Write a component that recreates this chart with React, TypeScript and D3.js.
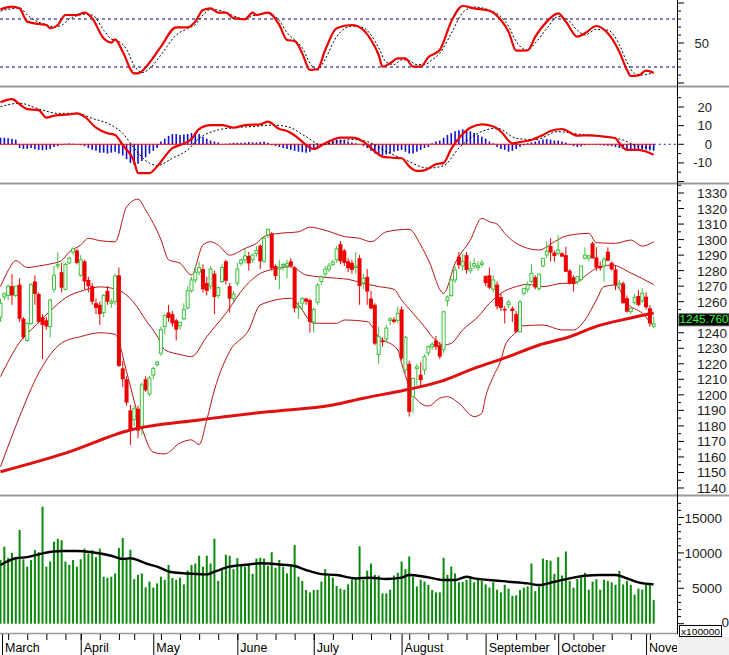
import React from 'react';
import * as d3 from 'd3';

// ---------- DATA ----------
const monthNames = ['March', 'April', 'May', 'June', 'July', 'August', 'September', 'October', 'November'];
const monthStart = [0, 21, 40, 62, 82, 105, 127, 146, 169];
const weekStart = [2, 7, 12, 17, 21, 26, 31, 35, 42, 47, 52, 57, 62, 67, 72, 77, 82, 87, 92, 97, 102, 107, 112, 117, 122, 130, 135, 140, 145, 150, 155, 160, 165, 170];

const opens = [1250,1263,1264,1270,1264,1271,1249,1235,1246,1273,1265,1250,1248,1244,1268,1283,1279,1268,1285,1292,1293,1277,1286,1274,1270,1259,1258,1253,1267,1259,1260,1277,1217,1210,1190,1184,1191,1178.5,1210,1200.6,1212.8,1219.5,1226.8,1244,1253,1252,1248,1244.5,1249,1256,1267,1274,1279,1281,1272,1270,1278,1264,1273,1286,1270,1262,1272,1284.7,1287,1289.5,1287,1291,1296,1286,1303,1304,1283,1281,1283,1283,1286,1282,1256,1259,1262,1261,1247,1259.6,1273,1278,1281,1284,1287,1297,1293,1286,1285,1282,1288,1272,1276,1262,1258,1226,1235,1236,1248,1248.5,1248,1255,1216,1220,1199,1217,1213,1216,1227,1231,1235,1232,1229,1260.7,1264,1274,1289,1283,1290,1280,1283,1282,1284,1276.5,1277,1268,1271,1263,1255.3,1258,1255.6,1252,1240.7,1265.4,1268,1273,1275.7,1268.6,1283,1290,1295.8,1291.6,1291.1,1291.1,1290,1280,1275.7,1272.9,1274.4,1288,1288,1297.6,1288.5,1283,1283,1292.2,1285,1280.8,1271,1271.8,1262.2,1253.6,1259.4,1263.7,1260.5,1263.2,1255.7,1244.2];
const highs = [1262,1266,1271,1278,1270,1275,1250,1247,1272,1277,1266,1252,1250,1262,1283,1292,1285,1285,1289,1295,1294,1290,1287,1276,1272,1262,1260,1265,1270,1262,1278,1282,1222,1212,1193.5,1193,1193,1208,1212,1212,1218,1222,1244,1252,1258,1254,1249,1247,1259,1270,1276,1283,1286,1284,1276,1283,1280,1270,1284,1287,1272,1267,1285,1288,1294,1292,1291,1296,1297,1302,1307,1305,1284,1287,1285,1287,1288,1283,1260,1263,1262.5,1262,1256,1272,1277,1283,1285,1287,1296,1299,1294,1288,1287,1292,1290,1278,1281,1267,1259,1244,1237,1245,1250,1250,1257,1257,1238,1222,1211,1220,1221,1226,1232,1234,1238,1234,1254,1264,1275,1283,1292,1291,1292,1286,1288,1286,1287,1277,1282,1277,1273,1265,1257,1261,1257,1254,1261,1268,1273,1284,1277,1278,1287,1299,1300.8,1293,1303,1292,1295.4,1281,1277,1276,1283,1295,1290,1298.6,1295,1286,1289,1295,1286,1283,1274,1273,1264,1256,1265,1267.5,1268.6,1266,1257.8,1250.4];
const lows = [1247,1261,1261,1258,1263,1247,1236,1234,1245,1258,1246,1223,1242,1237,1266,1281,1266,1267,1284,1290,1284,1276,1268,1266,1258,1252,1245,1250,1258,1256,1258,1218,1205,1193,1167.7,1180,1172,1174,1202,1199,1210,1218,1225,1239,1247,1244,1235,1242,1248,1255,1266,1272,1277,1266,1264,1268,1252,1262,1272,1271,1253,1260,1270,1283,1285,1280,1285,1289,1281,1285,1301,1280,1274,1268,1280,1275,1282,1253,1249,1254,1258,1240,1240,1258,1271,1276,1279,1283,1285,1284,1283,1279,1278,1278,1258,1268,1258,1255,1232,1220,1231,1234,1245,1246,1246,1222,1214,1186,1188,1206,1205,1213,1225,1229,1229,1223,1227,1257,1263,1272,1281,1280,1278,1278,1281,1280,1282,1270,1268,1266,1255,1254,1246,1256,1247,1240,1240,1264,1266,1272,1268,1267,1282,1288,1285.8,1285.8,1290,1289,1279,1271,1266.5,1271,1273,1287,1286,1287.9,1280,1280,1273,1286,1280,1267.5,1268,1258.9,1253,1252,1258,1257,1259,1255,1243.9,1242.8];
const closes = [1259,1265,1270,1264,1270,1249,1237,1246,1271,1265,1247,1245,1244,1261,1277,1284,1269,1284,1288,1294,1285,1287,1273,1270,1260,1256,1252,1264,1260,1260,1276.5,1218.6,1210,1195,1177.4,1191,1177,1206.4,1203,1210.8,1217,1221,1242,1251,1249.5,1246,1242,1246.7,1255,1267,1274,1279,1282,1268,1267,1281,1263,1269,1282,1273.5,1262,1265,1281,1286.8,1289.5,1284.7,1290,1293,1286,1300.8,1306.6,1281.5,1276.5,1282,1284,1284.5,1283,1255.7,1257,1262,1260,1247,1255,1270.7,1276,1281,1283,1285.5,1294,1286,1285,1281.5,1280.5,1283,1270,1275,1266.5,1255.7,1233,1237.5,1234,1243,1249,1247,1252.5,1223.5,1237,1189,1210.5,1218,1209.5,1224.6,1231,1232.5,1231,1224.6,1253.5,1263,1274,1280.4,1283.6,1286,1280.4,1281.5,1284.5,1283,1285,1272,1269,1274,1257,1256,1254.5,1259.8,1254,1240.7,1259.6,1268.6,1270.8,1278.2,1269.2,1277.8,1287.9,1292.6,1291.6,1289.4,1293.3,1289,1279.3,1271.8,1271.4,1276.1,1283,1290,1289.5,1287.9,1282,1281.5,1287.3,1286.4,1280.8,1270.7,1272,1259,1253.6,1255.8,1262.8,1257.9,1265.4,1256.4,1246,1245.76];
const volumes = [9000,10880,9300,10000,9400,13230,9100,8050,9000,10400,10100,16520,8050,8780,11580,12000,11800,8780,8300,9000,8050,9100,10600,9900,10400,9400,10600,6640,6500,6640,7100,10700,12100,9100,10450,6300,6900,7100,5140,5950,5100,5700,6640,6200,8300,6450,6200,6500,5550,7500,8300,8500,9600,8050,9600,8500,12000,6050,7700,9750,9600,7700,9250,8200,8050,8300,7050,9200,9300,9200,8200,10100,7900,9000,8050,7100,8050,11100,6640,6050,4760,4420,4760,4800,5950,7700,6800,6500,5330,4950,4800,5550,6300,6500,10950,6200,7500,8500,6900,6800,4290,4290,4800,6800,7200,8780,7700,9500,6640,5260,6200,5950,5500,4760,4420,4420,9300,6900,8050,7100,5850,5900,6200,6640,5850,6500,6050,5550,5100,5850,4800,4420,5500,4950,3950,4000,4760,5100,5260,8500,4600,5260,9200,9000,8900,7050,9400,6800,10200,6050,5100,6300,6500,7200,4800,5950,6300,4800,6200,6050,5850,5500,7450,5550,6050,5500,4100,4950,4800,5500,5550,3350];
const volumeMA: [number, number][] = [[0,8290],[4,9240],[7,9400],[11,9940],[16,10270],[20,10270],[24,10100],[29,9600],[32,9140],[34,9240],[38,8530],[41,8050],[45,7260],[49,7100],[54,6960],[56,7340],[60,8050],[65,8370],[68,8530],[73,8370],[77,8150],[80,7580],[84,7010],[88,6870],[93,6400],[97,6500],[101,6310],[105,6500],[107,6870],[111,6640],[116,6170],[119,6170],[122,6640],[124,6400],[128,6170],[133,5930],[138,5690],[141,5460],[145,5930],[149,6400],[153,6780],[157,6870],[161,6870],[164,6400],[167,5830],[171,5550]];

const ma200: [number, number][] = [[0,1150.5],[17,1162.5],[34,1177.4],[52,1183.8],[70,1189.1],[87,1193.5],[95,1197.8],[106,1203.1],[115,1208.5],[124,1217.1],[133,1224.6],[141,1232.1],[149,1237.4],[156,1244.1],[165,1249.5],[171,1252.7]];
const bbUpper: [number, number][] = [[0,1269.7],[2,1280],[4,1286.4],[7,1282],[10,1283],[13,1284.3],[16,1286.5],[18,1292],[21,1296.5],[23,1300.8],[26,1299.3],[30,1298.6],[33,1321],[36,1326],[38,1319],[42,1300],[44,1287],[47,1284.7],[50,1277.2],[53,1296.5],[55,1298.6],[57,1296.5],[60,1290],[64,1294.3],[67,1297.6],[69,1302],[73,1304],[78,1305],[81,1308],[85,1306],[90,1302],[94,1300.8],[97,1298.6],[101,1305],[107,1306.6],[110,1296.5],[112,1287],[116,1265.4],[119,1284.7],[123,1299.7],[126,1313.7],[128,1311.5],[130,1310],[132,1304],[135,1297.6],[141,1293.3],[145,1298.6],[148,1302.3],[154,1304],[156,1298],[161,1297.6],[165,1299.7],[168,1295.8],[171,1298.6]];
const bbMid: [number, number][] = [[0,1211.7],[5,1233.8],[9,1244.3],[13,1254],[17,1262.4],[22,1267.5],[26,1269.5],[30,1268.2],[35,1259.2],[38,1248.2],[41,1237.9],[43,1229],[47,1226],[50,1224.6],[54,1237.5],[59,1252.5],[64,1269.7],[69,1279.3],[76,1282.5],[80,1277.2],[88,1275.1],[91,1274.4],[95,1271.8],[99,1269.7],[103,1268],[105,1261.1],[108,1252.5],[111,1243.9],[113,1237.4],[116,1232.1],[118,1233.2],[121,1241.8],[125,1250.3],[128,1258.9],[131,1265.4],[135,1269.7],[138,1271.2],[142,1269.7],[147,1271.8],[150,1272],[154,1278.3],[156,1281.5],[160,1283.6],[165,1278.5],[171,1271]];
const bbLower: [number, number][] = [[0,1153.7],[5,1186],[10,1214],[16,1233.4],[21,1237.5],[26,1240],[30,1239],[33,1215],[35,1196],[37,1179],[40,1163],[43,1162],[47,1169],[50,1171],[52,1168],[54,1183.8],[56,1203.1],[60,1228],[65,1241.8],[68,1257.9],[76,1262.2],[78,1257.9],[82,1246.1],[88,1246.1],[90,1248.2],[96,1247.1],[99,1237.5],[104,1228.9],[105,1220.3],[107,1205.3],[109,1196.7],[112,1192.8],[115,1197.8],[117,1198.8],[120,1194.6],[124,1186],[126,1188.1],[127,1198.8],[129,1211.7],[131,1222.4],[132,1231],[135,1240.7],[136,1244.3],[142,1245],[147,1241.8],[150,1241.8],[153,1248.2],[156,1261.1],[158,1269.7],[161,1270.7],[164,1259],[168,1252.5],[171,1243.9]];

const stochK: [number, number][] = [[0,92],[3,95.4],[5,93],[7,76.7],[10,73.8],[12,72.5],[13,68.3],[15,72.5],[17,85],[20,85],[22,88],[24,81],[27,55.8],[29,50.4],[30,54.6],[32,39],[35,12],[36,12],[39,25.4],[42,45.4],[46,69.6],[49,69.6],[51,76.7],[53,91.3],[55,93.3],[57,88],[59,88],[61,81],[64,79.6],[66,88],[67,85],[70,88],[73,72.5],[75,53.75],[77,52.5],[79,37],[81,16.3],[83,17.5],[85,41.25],[88,68.3],[92,72.5],[95,66.25],[97,53.75],[99,35],[100,20.4],[102,24.6],[104,30.8],[106,30.8],[108,20.4],[110,20.4],[112,32.1],[115,41.25],[118,76.7],[121,96.25],[124,93.3],[128,90.4],[131,78.75],[133,64.2],[135,40.4],[138,40.8],[140,57.9],[143,76.7],[146,87],[148,76.7],[151,57.9],[153,62.1],[156,71.25],[159,62.1],[162,39],[164,16.3],[165,8.75],[167,9.5],[169,15.4],[171,12.9]];
const stochD: [number, number][] = [[0,90],[3,93],[5,94],[7,85],[10,76],[12,73],[14,70],[16,72],[18,80],[20,84],[22,86],[24,85],[27,66],[29,55],[31,52],[33,42],[35,22],[37,13],[39,18],[42,35],[46,60],[49,68],[51,73],[53,85],[55,92],[57,91],[59,88],[61,84],[64,80],[66,84],[68,86],[70,87],[73,78],[75,63],[77,54],[79,44],[81,25],[83,16],[85,30],[88,58],[92,71],[95,69],[97,60],[99,44],[101,26],[103,23],[105,29],[107,28],[109,23],[111,23],[113,29],[115,37],[118,62],[121,88],[124,95],[128,91],[131,83],[133,71],[135,52],[138,41],[140,50],[143,68],[146,83],[148,81],[151,66],[153,60],[156,67],[159,66],[162,48],[164,26],[166,12],[168,10],[171,13]];

const macdLine: [number, number][] = [[0,22.5],[3,24.2],[5,21.5],[7,18.9],[10,18.3],[12,14.3],[14,15.3],[18,16],[20,16.6],[22,14.8],[25,8.9],[28,5.9],[30,5],[32,-0.4],[35,-9.3],[36,-15.5],[39,-15.5],[41,-11.9],[45,-2.1],[47,-0.4],[50,2.8],[52,8.2],[55,10.3],[58,10.3],[61,8.9],[64,10.3],[68,10.7],[70,12.1],[73,8.2],[75,7.1],[78,3.2],[80,-0.4],[82,-2.5],[85,0.5],[89,3.6],[92,3.6],[95,1.4],[97,-2.1],[100,-6.6],[102,-7.1],[105,-7.5],[107,-11.9],[109,-14.3],[111,-14],[114,-10.7],[116,-10],[118,-2.5],[120,3.2],[123,8.9],[126,10.7],[129,9.5],[131,6.8],[134,0.5],[136,1.2],[139,2.3],[142,5],[144,7.1],[147,8.2],[148,7.5],[151,4.6],[154,4.8],[158,4.1],[161,3.2],[162,0.5],[164,-3],[167,-3],[169,-3.9],[171,-5.7]];
const macdSignal: [number, number][] = [[0,20.2],[5,22],[10,19],[15,16.6],[20,16.6],[24,13.9],[29,10.3],[32,5.9],[35,-2.1],[39,-10.2],[41,-11.4],[45,-7.5],[49,-3],[52,3.2],[57,7.7],[61,8.9],[66,9.5],[71,10.3],[75,9.5],[80,4.1],[84,-0.4],[88,1.4],[92,2.5],[96,1.4],[101,-3.9],[106,-8.4],[112,-12.8],[116,-11.5],[120,-2.1],[125,5.9],[130,8.6],[135,3.2],[140,2.5],[146,6.8],[151,5.5],[158,4.1],[163,2.3],[167,-1.2],[171,-2.1]];
const macdHist = [3.5,3.5,3.2,3,2.5,-2,-2.5,-2.5,-2,-2.5,-3,-3.2,-3,-2.5,-1.5,-1,-0.5,0.3,0.5,0.3,-0.3,-0.5,-1,-2,-3,-3.5,-4.5,-4.5,-5,-4.5,-4,-5,-6,-8,-10,-11,-10.5,-9,-7,-5,-3.5,-2,1.5,3,4.5,5.5,5.5,5,5.2,5.5,6,6.3,5.5,4,3,2,1.5,1,0.2,0.3,0.5,0.8,0.8,0.8,1,1.2,1,1,1.2,1.5,0.8,-0.5,-1,-1.5,-2,-2.5,-3,-3.5,-4,-4.3,-4.5,-4,-3,-2,-1,0.5,1.5,2,2.5,2.5,2,1.5,1,0.5,0,-1,-2,-3.5,-5,-6,-6,-5.5,-5,-4,-3.5,-3,-4,-5,-5,-4,-3,-2,-1.5,0.5,1.5,2,3.5,5,6,7,7.5,8,7.5,7,6,5,4,3,1.5,0.5,-1.5,-2.5,-3,-4,-3.5,-2.5,-1.5,-0.5,0.5,1,1.5,2,2.5,2.8,2.5,2,2,1.5,1,-0.5,-1,-1.5,-1,-0.5,-0.3,-0.2,-0.3,-0.5,-0.7,-0.8,-1,-1.5,-2,-2.5,-3,-3.2,-3,-3,-2.8,-3,-3.2,-3.5];

// 1250 is hidden behind the last-price box in the reference
const priceTicks = [1140, 1150, 1160, 1170, 1180, 1190, 1200, 1210, 1220, 1230, 1240, 1260, 1270, 1280, 1290, 1300, 1310, 1320, 1330];
const macdTicks = [-10, 0, 10, 20];
const volTicks = [0, 5000, 10000, 15000];
const stochTicks = [50];
const lastPriceLabel = '1245.760';
const volUnitLabel = 'x100000';

// ---------- CHART ----------
const W = 729;
const H = 655;
const AX = 677;
const FONT = '"Liberation Sans", Arial, sans-serif';
const GREEN = '#3cc23c';
const RED = '#ee0000';

export default function App() {
  const x = d3.scaleLinear().domain([0, 171]).range([0.5, 653.7]);
  const yP = d3.scaleLinear().domain([1140, 1330]).range([488, 193]);
  const yS = d3.scaleLinear().domain([0, 100]).range([83, 3]);
  const yM = d3.scaleLinear().domain([-10, 20]).range([162.9, 107.0]);
  const yV = d3.scaleLinear().domain([0, 15000]).range([623.7, 517.5]);

  const mk = (y: d3.ScaleLinear<number, number>) =>
    d3.line<[number, number]>().x(d => x(d[0])).y(d => y(d[1])).curve(d3.curveMonotoneX);

  const lineP = mk(yP);
  const lineS = mk(yS);
  const lineM = mk(yM);
  const lineV = mk(yV);

  const idx = d3.range(closes.length);

  const minorTicks = (vals: number[], y: (v: number) => number, longEvery: number, key: string) =>
    vals.map(v => (
      <line key={key + v} x1={AX} x2={AX + (Math.abs(v % longEvery) < 1e-6 ? 7 : 4)} y1={y(v)} y2={y(v)} stroke="#000" strokeWidth={1} />
    ));

  const lastY = yP(closes[171]);

  return (
    <svg width={W} height={H} style={{ position: 'absolute', left: 0, top: 0, background: '#fff' }} fontFamily={FONT}>
      <defs>
        <clipPath id="cS"><rect x={0} y={0} width={AX} height={86} /></clipPath>
        <clipPath id="cM"><rect x={0} y={88} width={AX} height={94} /></clipPath>
        <clipPath id="cP"><rect x={0} y={185} width={AX} height={309} /></clipPath>
        <clipPath id="cV"><rect x={0} y={497} width={AX} height={135} /></clipPath>
        <clipPath id="cX"><rect x={0} y={633} width={AX} height={22} /></clipPath>
      </defs>
      <rect x={0} y={0} width={W} height={H} fill="#fff" />

      {/* separators */}
      {[86.5, 183.5, 495.5].map(y => (
        <line key={'sep' + y} x1={0} x2={W} y1={y} y2={y} stroke="#9a9a9a" strokeWidth={2} />
      ))}
      <line x1={0} x2={AX} y1={633.5} y2={633.5} stroke="#9a9a9a" strokeWidth={1.5} />
      <rect x={AX + 1} y={637} width={W - AX - 1} height={H - 637} fill="#f0f0f0" />
      <line x1={AX + 0.5} x2={AX + 0.5} y1={0} y2={634} stroke="#000" strokeWidth={1} />

      {/* ---- Stochastic ---- */}
      <g clipPath="url(#cS)">
        {[80, 20].map(v => (
          <line key={'sd' + v} x1={0} x2={AX} y1={yS(v)} y2={yS(v)} stroke="#000080" strokeWidth={1} strokeDasharray="3,3" />
        ))}
        <path d={lineS(stochD) || ''} fill="none" stroke="#000" strokeWidth={1} strokeDasharray="2,2" />
        <path d={lineS(stochK) || ''} fill="none" stroke={RED} strokeWidth={2.2} />
      </g>
      {minorTicks(d3.range(0, 101, 10), yS, 50, 's')}
      {stochTicks.map(v => (
        <text key={'st' + v} x={709} y={yS(v) + 4.5} fontSize={13} textAnchor="end" fill="#222">{v}</text>
      ))}

      {/* ---- MACD ---- */}
      <g clipPath="url(#cM)">
        {idx.map(i => (
          <line key={'h' + i} x1={x(i)} x2={x(i)} y1={yM(0)} y2={yM(macdHist[i])} stroke="#1010d0" strokeWidth={1.6} />
        ))}
        <line x1={0} x2={x(171)} y1={yM(0)} y2={yM(0)} stroke={RED} strokeWidth={1.2} />
        <line x1={x(171)} x2={AX} y1={yM(0)} y2={yM(0)} stroke="#1010d0" strokeWidth={1} strokeDasharray="2,3" />
        <path d={lineM(macdSignal) || ''} fill="none" stroke="#000" strokeWidth={1} strokeDasharray="2,2" />
        <path d={lineM(macdLine) || ''} fill="none" stroke={RED} strokeWidth={2.2} />
      </g>
      {minorTicks(d3.range(-20, 26, 5), yM, 10, 'm')}
      {macdTicks.map(v => (
        <text key={'mt' + v} x={712} y={yM(v) + 4.5} fontSize={13} textAnchor="end" fill="#222">{v}</text>
      ))}

      {/* ---- Price ---- */}
      <g clipPath="url(#cP)">
        <path d={lineP(bbUpper) || ''} fill="none" stroke="#b81414" strokeWidth={1} />
        <path d={lineP(bbMid) || ''} fill="none" stroke="#b81414" strokeWidth={1} />
        <path d={lineP(bbLower) || ''} fill="none" stroke="#b81414" strokeWidth={1} />
        {idx.map(i => {
          const up = closes[i] >= opens[i];
          const c = up ? GREEN : RED;
          const top = yP(Math.max(opens[i], closes[i]));
          const bot = yP(Math.min(opens[i], closes[i]));
          const cx = x(i);
          return (
            <g key={'c' + i}>
              <line x1={cx} x2={cx} y1={yP(highs[i])} y2={yP(lows[i])} stroke={c} strokeWidth={1} />
              {up ? (
                <rect x={cx - 1.5} y={top} width={3} height={Math.max(bot - top, 1)} fill="#fff" stroke={c} strokeWidth={1} />
              ) : (
                <rect x={cx - 2} y={top} width={4} height={Math.max(bot - top, 1.5)} fill={c} />
              )}
            </g>
          );
        })}
        <path d={lineP(ma200) || ''} fill="none" stroke="#e01010" strokeWidth={3} />
      </g>
      {minorTicks(d3.range(1140, 1336, 5), yP, 10, 'p')}
      {priceTicks.map(v => (
        <text key={'pt' + v} x={697} y={yP(v) + 5} fontSize={13.5} fill="#222">{v}</text>
      ))}
      <rect x={679} y={lastY - 10} width={50} height={12} fill="#000" stroke="#555" strokeWidth={1} />
      <text x={679.5} y={lastY - 0.5} fontSize={11} fill="#33ff33" textLength={49} lengthAdjust="spacingAndGlyphs">{lastPriceLabel}</text>

      {/* ---- Volume ---- */}
      <g clipPath="url(#cV)">
        {idx.map(i => (
          <rect key={'v' + i} x={x(i) - 1} y={yV(volumes[i])} width={2} height={yV(0) - yV(volumes[i])} fill="#0a8a0a" />
        ))}
        <path d={lineV(volumeMA) || ''} fill="none" stroke="#000" strokeWidth={2.4} />
      </g>
      {minorTicks(d3.range(0, 18000, 1000), yV, 5000, 'v')}
      {volTicks.filter(v => v > 0).map(v => (
        <text key={'vt' + v} x={722} y={yV(v) + 5} fontSize={13.5} textAnchor="end" fill="#222">{v}</text>
      ))}
      <text x={729} y={yV(0) + 3} fontSize={13.5} textAnchor="end" fill="#222">{volTicks[0]}</text>
      <rect x={679.5} y={625.5} width={42} height={11} fill="#fff" stroke="#000" strokeWidth={1} />
      <text x={681} y={634.5} fontSize={9.5} fill="#000" textLength={39} lengthAdjust="spacingAndGlyphs">{volUnitLabel}</text>

      {/* ---- X axis ---- */}
      <g clipPath="url(#cX)">
        {weekStart.map(i => (
          <line key={'w' + i} x1={x(i) + 0.5} x2={x(i) + 0.5} y1={634} y2={640} stroke="#000" strokeWidth={1} />
        ))}
        {monthStart.map((i, k) => (
          <g key={'mo' + k}>
            <line x1={Math.max(x(i), 2) + 0.5} x2={Math.max(x(i), 2) + 0.5} y1={634} y2={655} stroke="#000" strokeWidth={1} />
            <text x={Math.max(x(i), 2) + 3} y={652} fontSize={12.5} fill="#000">{monthNames[k]}</text>
          </g>
        ))}
      </g>
    </svg>
  );
}
